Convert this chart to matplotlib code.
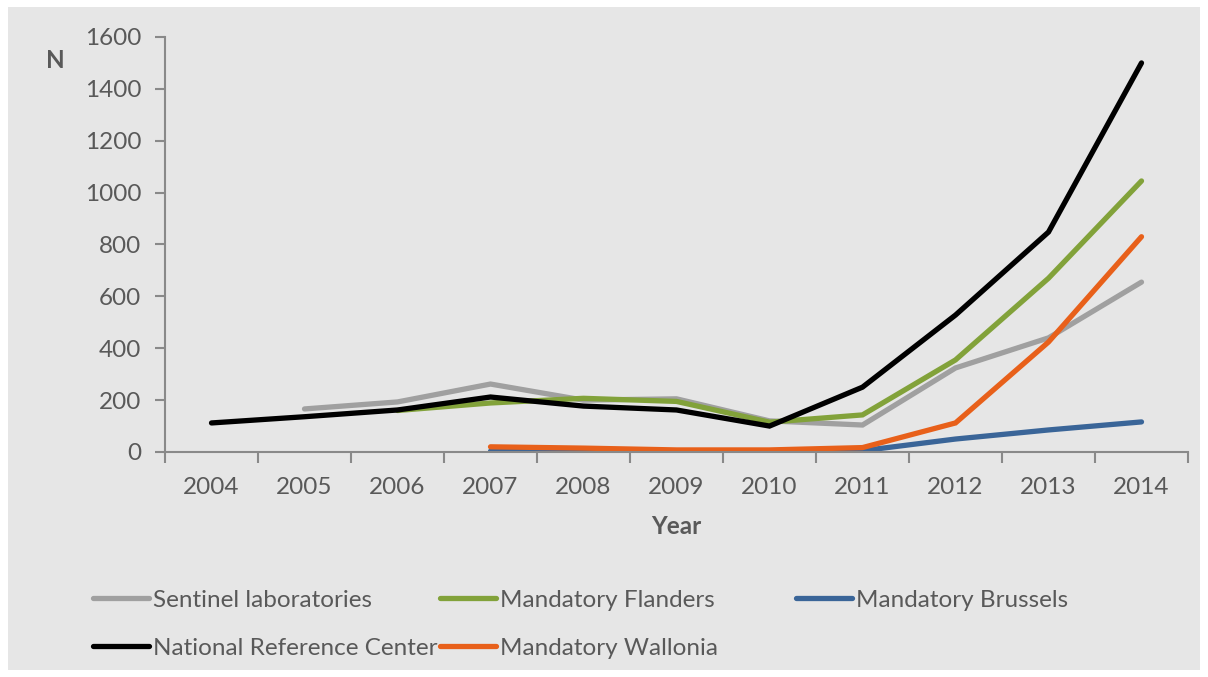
import numpy as np
import matplotlib
matplotlib.use("Agg")
import matplotlib.pyplot as plt
from matplotlib.patches import Rectangle

plt.rcParams['font.family'] = ['Lato', 'DejaVu Sans']

years = np.arange(2004, 2015)

sentinel = [np.nan, 166, 193, 262, 200, 205, 120, 104, 324, 440, 655]
flanders = [np.nan, np.nan, 160, 189, 207, 195, 115, 143, 355, 670, 1045]
brussels = [np.nan, np.nan, np.nan, 3, 2, 2, 3, 5, 50, 85, 116]
wallonia = [np.nan, np.nan, np.nan, 20, 15, 8, 8, 17, 112, 424, 830]
nrc = [112, 136, 162, 212, 177, 162, 100, 250, 528, 848, 1500]

text_col = '#595959'
axis_col = '#898989'
fs = 17.5

fig = plt.figure(figsize=(12.08, 6.77), dpi=100)
fig.patch.set_facecolor('white')
fig.patches.append(Rectangle((8 / 1208, 7 / 677), 1192 / 1208, 663 / 677,
                             transform=fig.transFigure, facecolor='#e6e6e6',
                             edgecolor='none', zorder=-10))

ax = fig.add_axes([165 / 1208, 1 - 452 / 677, 1023 / 1208, 415 / 677])
ax.set_facecolor('none')

lw = 3.8
kw = dict(lw=lw, solid_capstyle='round', solid_joinstyle='miter')
l_sen, = ax.plot(years, sentinel, color='#a0a0a0', label='Sentinel laboratories', **kw)
l_fla, = ax.plot(years, flanders, color='#82a23a', label='Mandatory Flanders', **kw)
l_bru, = ax.plot(years, brussels, color='#3a6598', label='Mandatory Brussels', **kw)
l_wal, = ax.plot(years, wallonia, color='#e8601a', label='Mandatory Wallonia', **kw)
l_nrc, = ax.plot(years, nrc, color='black', label='National Reference Center', **kw)

ax.set_xlim(2003.5, 2014.5)
ax.set_ylim(0, 1600)
ax.set_yticks(np.arange(0, 1601, 200))
ax.set_xticks(years)
ax.set_xticks(np.arange(2003.5, 2015, 1), minor=True)
ax.tick_params(axis='x', which='major', length=0, pad=18, labelsize=fs, labelcolor=text_col)
ax.tick_params(axis='x', which='minor', length=8, width=1.5, color=axis_col)
ax.tick_params(axis='y', length=7, width=1.5, color=axis_col, pad=10,
               labelsize=fs, labelcolor=text_col)

for s in ['top', 'right']:
    ax.spines[s].set_visible(False)
for s in ['left', 'bottom']:
    ax.spines[s].set_color(axis_col)
    ax.spines[s].set_linewidth(1.5)

fig.text(676 / 1208, 1 - 526 / 677, 'Year', ha='center', va='center',
         fontsize=fs, fontweight='bold', color=text_col)
fig.text(55 / 1208, 1 - 60 / 677, 'N', ha='center', va='center',
         fontsize=fs, fontweight='bold', color=text_col)

leg_kw = dict(loc='upper left', frameon=False, fontsize=fs, handlelength=2.3,
              handletextpad=0.17, columnspacing=0.1, labelspacing=1.1,
              labelcolor=text_col)
h1 = [l_sen, l_nrc, l_fla, l_wal]
fig.legend(handles=h1, labels=[h.get_label() for h in h1], ncol=2,
           bbox_to_anchor=(71 / 1208, 1 - 568 / 677), **leg_kw)
fig.legend(handles=[l_bru], labels=[l_bru.get_label()],
           bbox_to_anchor=(774 / 1208, 1 - 568 / 677), **leg_kw)

fig.savefig('out.png', dpi=100)
